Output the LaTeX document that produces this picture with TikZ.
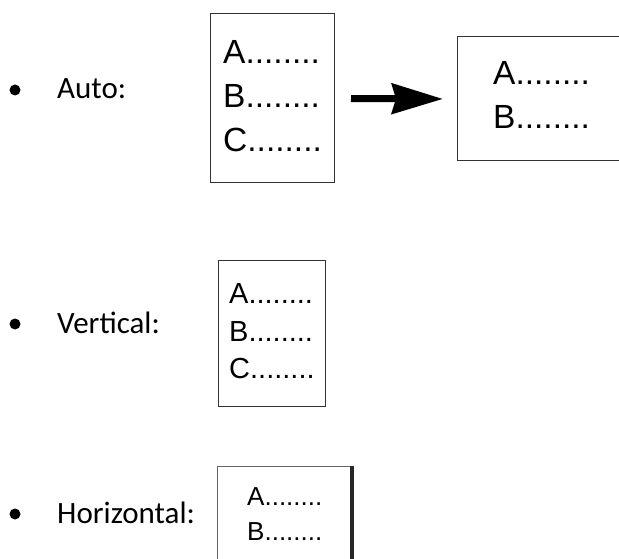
\documentclass[tikz,border=0pt]{standalone}
\usepackage{fontspec}
\setmainfont{Carlito}
\newfontfamily\arialf{Liberation Sans}
\usetikzlibrary{arrows.meta}
\begin{document}
\begin{tikzpicture}[x=1pt,y=-1pt,
  boxframe/.style={draw=black!80, line width=1pt, fill=white, inner sep=0pt, outer sep=0pt},
  itemtext/.style={font=\fontsize{31}{37}\selectfont, anchor=base west, inner sep=0pt},
  bulletdot/.style={circle, fill=black, draw=none, inner sep=0pt, minimum size=11pt},
  entry/.style={anchor=base west, inner sep=0pt},
  bigentry/.style={entry, font=\arialf\fontsize{33.5}{40}\selectfont},
  midentry/.style={entry, font=\arialf\fontsize{29}{35}\selectfont},
  smallentry/.style={entry, font=\arialf\fontsize{26}{31}\selectfont},
  bigarrow/.style={line width=7pt, -{Stealth[length=51pt, width=30pt, inset=4pt]}}
]
\useasboundingbox (0,0) rectangle (619,559);

% Auto
\node[bulletdot] (d1) at (15,90) {};
\node[itemtext] (l1) at (57,99) {Auto:};
\node[boxframe, minimum width=124pt, minimum height=169pt] (box1) at (272,98.5) {};
\node[bigentry] (b1a) at (223,64) {A........};
\node[bigentry] (b1b) at (223,108) {B........};
\node[bigentry] (b1c) at (223,152) {C........};
\node[boxframe, minimum width=168pt, minimum height=124pt] (box2) at (541,99) {};
\node[bigentry] (b2a) at (493,85) {A........};
\node[bigentry] (b2b) at (493,129) {B........};
\draw[bigarrow, shorten <=17pt, shorten >=14pt] (box1.east) -- (box2.west);

% Vertical
\node[bulletdot] (d2) at (15,324) {};
\node[itemtext] (l2) at (57,333) {Vertical:};
\node[boxframe, minimum width=107pt, minimum height=146pt] (vbox) at (271.5,333) {};
\node[midentry] (v1) at (229,303) {A........};
\node[midentry] (v2) at (229,341) {B........};
\node[midentry] (v3) at (229,378) {C........};

% Horizontal
\node[bulletdot] (d3) at (15,514) {};
\node[itemtext] (l3) at (57,523) {Horizontal:};
\node[boxframe, draw=black!60, minimum width=135pt, minimum height=124pt] (hbox) at (284.5,528) {};
\draw[line width=4pt, black!85] (hbox.north east) -- (hbox.south east);
\node[smallentry] (h1) at (247,505) {A........};
\node[smallentry] (h2) at (247,540) {B........};
\end{tikzpicture}
\end{document}
